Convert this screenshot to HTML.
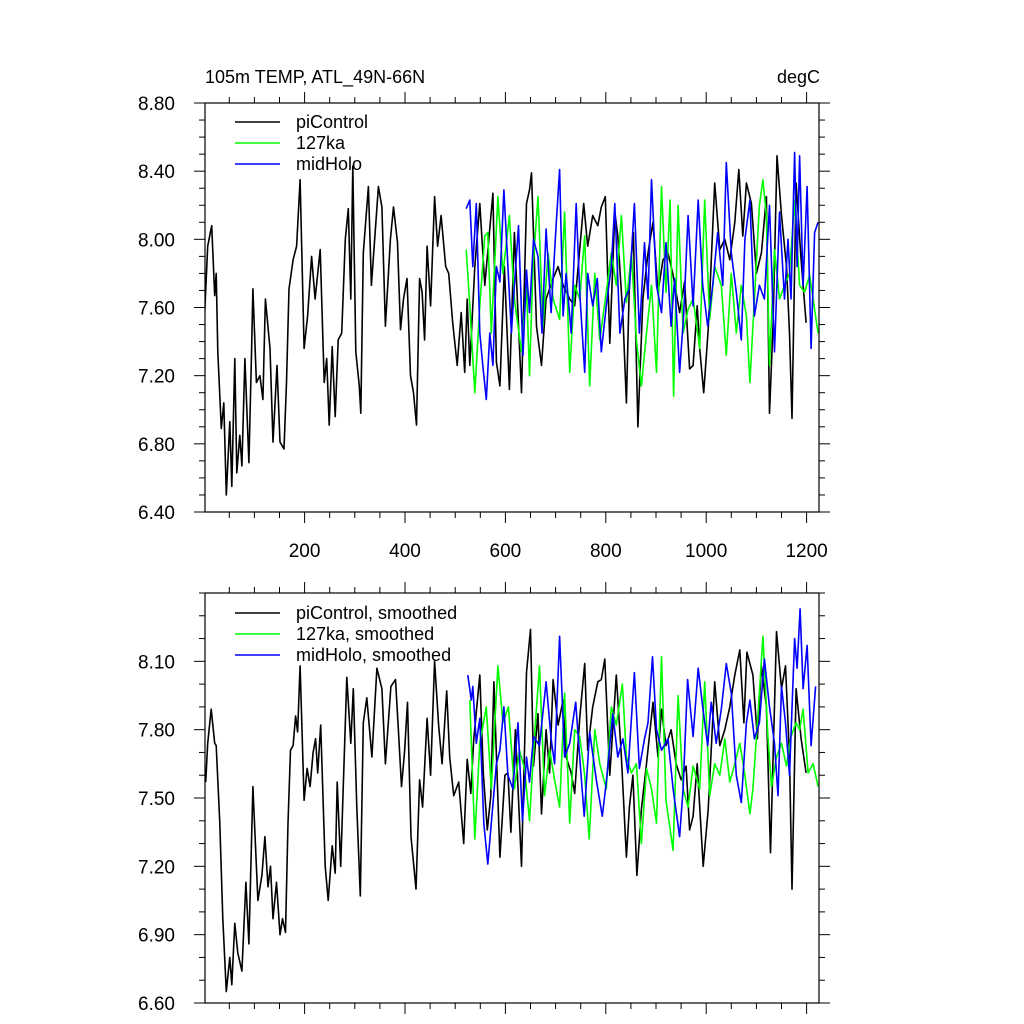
<!DOCTYPE html>
<html><head><meta charset="utf-8"><style>
html,body{margin:0;padding:0;background:#fff;}
svg{display:block;font-family:"Liberation Sans",sans-serif;}
</style></head><body>
<svg id="chart" width="1024" height="1024" viewBox="0 0 1024 1024"></svg>
<script>
// ---- Data ----
const piYears = [1,7,15,21,24,27,34,39,44,51,55,61,65,71,75,81,89,94,97,104,111,117,122,131,137,145,151,159,164,169,177,184,191,199,206,214,221,231,239,244,249,255,261,267,274,281,287,292,296,302,309,312,317,327,333,341,347,354,361,371,377,385,391,397,404,411,417,423,429,434,439,444,451,459,465,472,481,487,495,504,512,519,524,529,539,549,559,575,582,589,598,608,618,632,642,648,652,662,672,681,695,705,715,728,738,748,756,764,774,784,791,799,808,818,824,834,841,847,855,864,874,884,894,904,914,924,934,947,957,967,974,982,987,995,1004,1017,1027,1037,1047,1057,1065,1073,1080,1090,1100,1110,1120,1126,1133,1141,1150,1160,1166,1171,1179,1189,1199];
const piValues = [7.57,7.96,8.08,7.67,7.80,7.34,6.89,7.04,6.50,6.93,6.55,7.30,6.63,6.85,6.67,7.30,6.69,7.30,7.71,7.16,7.20,7.06,7.65,7.36,6.81,7.26,6.81,6.77,7.16,7.71,7.88,7.96,8.35,7.36,7.55,7.90,7.65,7.94,7.16,7.30,6.91,7.37,6.96,7.41,7.45,8.00,8.18,7.65,8.43,7.34,7.14,6.98,7.92,8.31,7.73,8.06,8.31,8.19,7.49,8.00,8.19,7.98,7.47,7.65,7.77,7.20,7.10,6.91,7.77,7.69,7.41,7.96,7.61,8.25,7.96,8.14,7.84,7.80,7.51,7.26,7.57,7.22,7.65,7.26,7.84,8.21,7.73,8.27,7.28,7.14,7.84,7.12,8.04,7.10,8.21,8.29,8.39,7.49,7.26,7.65,7.77,7.84,7.73,7.65,7.61,7.94,8.21,7.96,8.14,8.08,8.19,8.25,7.39,8.16,8.02,7.55,7.04,7.75,8.04,6.90,7.65,7.92,8.10,7.69,7.88,7.92,7.79,7.57,7.75,7.24,7.26,7.61,7.36,7.10,7.47,8.33,7.94,8.00,7.88,8.10,8.41,8.02,8.33,8.21,7.80,7.92,8.25,6.98,7.49,8.49,8.14,7.84,7.45,6.95,8.33,7.88,7.51];
const kaYears = [522,529,539,549,559,565,572,585,595,602,608,618,632,642,648,655,665,675,685,695,708,718,728,738,748,758,768,778,788,801,811,821,831,841,851,861,871,881,891,901,911,920,928,935,944,954,964,974,987,997,1007,1017,1030,1040,1050,1060,1070,1080,1087,1096,1106,1113,1120,1126,1136,1146,1156,1166,1176,1186,1196,1206,1213,1223];
const kaValues = [7.94,7.61,7.10,7.61,8.02,8.04,7.45,8.25,7.80,7.98,8.14,7.65,7.34,7.73,7.20,7.84,8.25,7.49,7.92,7.65,7.53,8.16,7.22,7.73,7.65,8.02,7.14,7.80,7.41,7.69,7.92,7.73,8.14,7.63,7.92,7.41,7.14,7.45,7.73,7.22,8.31,7.69,8.23,7.08,8.20,7.45,7.59,7.65,7.36,8.23,7.53,7.84,7.73,7.32,7.80,7.45,7.73,7.55,7.16,7.65,8.20,8.35,8.14,7.26,7.94,7.65,7.73,7.80,8.23,7.73,7.69,7.79,7.65,7.45];
const mhYears = [522,529,535,542,549,555,562,569,575,582,589,597,605,612,618,626,635,642,648,656,665,673,681,691,701,708,715,721,731,741,748,758,764,774,783,791,801,811,818,828,838,847,857,867,877,884,891,901,911,920,930,937,947,955,964,974,984,993,1003,1013,1023,1033,1040,1050,1060,1070,1077,1087,1096,1106,1116,1126,1136,1146,1156,1163,1169,1176,1181,1186,1193,1201,1209,1216,1223];
const mhValues = [8.18,8.23,7.84,8.21,7.45,7.26,7.06,7.45,7.26,7.84,7.75,8.29,7.84,7.45,7.73,8.08,7.32,7.82,7.57,8.00,7.90,7.45,8.06,7.57,8.08,8.41,7.55,7.80,7.45,8.21,7.69,7.22,7.80,7.61,7.77,7.34,7.61,7.84,8.21,7.45,7.65,7.71,8.21,7.45,7.98,7.65,8.35,7.73,7.57,7.98,7.49,7.77,7.22,7.55,8.14,7.61,8.23,7.73,7.49,7.73,8.04,7.73,8.45,7.92,7.69,7.41,8.00,8.23,7.55,7.73,7.65,8.20,7.34,8.16,7.65,8.00,7.65,8.51,7.84,8.49,7.73,8.31,7.36,8.04,8.10];
// smoothed
const piSmYears = [3,7,14,21,24,31,37,44,51,55,61,67,75,83,89,97,107,115,121,127,132,137,144,151,156,162,167,172,177,182,186,191,199,205,211,217,222,226,232,241,247,255,261,265,272,284,292,297,304,311,317,324,334,344,354,361,372,381,387,393,399,405,412,422,429,435,444,451,459,467,474,483,489,497,507,517,524,531,537,549,556,564,571,577,589,599,605,611,620,632,642,650,656,665,672,681,688,695,705,715,721,731,738,748,758,764,774,784,791,798,808,821,831,841,847,854,862,871,881,894,904,911,920,930,940,950,960,967,974,982,994,1004,1017,1027,1037,1047,1057,1067,1075,1081,1093,1102,1110,1120,1128,1140,1150,1158,1166,1171,1179,1189,1199];
const piSmValues = [7.57,7.74,7.89,7.74,7.73,7.39,6.97,6.65,6.80,6.68,6.95,6.82,6.74,7.13,6.86,7.55,7.05,7.16,7.33,7.11,7.20,6.97,7.13,6.90,6.97,6.91,7.39,7.71,7.73,7.86,7.79,8.08,7.49,7.63,7.55,7.70,7.76,7.61,7.82,7.20,7.05,7.29,7.17,7.57,7.20,8.03,7.74,7.98,7.46,7.07,7.83,7.94,7.68,8.07,7.98,7.65,7.99,8.02,7.79,7.55,7.70,7.92,7.33,7.10,7.58,7.46,7.85,7.60,8.10,7.82,7.65,7.97,7.68,7.51,7.57,7.30,7.67,7.52,7.76,8.04,7.61,7.36,7.51,8.01,7.24,7.60,7.61,7.35,7.80,7.20,8.05,8.24,7.64,7.87,7.43,7.80,7.61,8.02,7.82,7.93,7.68,7.61,7.52,7.85,8.09,7.71,7.90,8.01,8.02,8.11,7.60,8.04,7.68,7.24,7.46,7.60,7.16,7.45,7.65,7.92,7.68,7.89,7.73,7.80,7.65,7.58,7.64,7.36,7.42,7.65,7.20,7.45,8.01,7.73,7.80,7.90,8.04,8.15,7.83,8.14,8.04,7.76,8.08,7.90,7.26,8.23,7.98,8.08,7.68,7.10,7.98,7.76,7.61];
const kaSmYears = [529,539,549,562,572,585,595,606,618,628,638,648,658,668,678,688,698,708,718,728,738,748,758,767,778,788,801,811,821,833,841,851,861,871,881,891,901,911,920,934,944,954,964,974,987,997,1007,1017,1027,1037,1047,1057,1067,1077,1087,1093,1103,1113,1123,1130,1140,1150,1160,1169,1179,1186,1193,1203,1213,1223];
const kaSmValues = [7.93,7.32,7.74,7.90,7.54,8.08,7.83,7.90,7.54,7.71,7.63,7.40,7.77,8.08,7.51,7.71,7.58,7.46,7.96,7.39,7.80,7.77,7.60,7.32,7.80,7.65,7.54,7.90,7.82,8.00,7.68,7.61,7.65,7.30,7.63,7.54,7.39,8.12,7.49,7.27,7.95,7.54,7.46,7.64,7.54,8.01,7.51,7.65,7.60,7.76,7.57,7.65,7.74,7.60,7.43,7.54,7.86,8.21,7.77,7.55,7.68,7.74,7.64,7.77,7.83,7.80,7.89,7.61,7.65,7.55];
const mhSmYears = [525,532,535,542,549,557,565,572,582,589,597,605,615,625,634,642,648,656,668,681,691,698,708,718,728,740,748,757,768,781,793,801,814,824,834,844,857,867,877,884,893,901,911,924,934,947,954,963,974,984,993,1003,1010,1020,1030,1040,1050,1060,1070,1080,1087,1096,1106,1116,1126,1136,1143,1150,1158,1166,1176,1181,1187,1193,1201,1209,1218];
const mhSmValues = [8.04,7.93,7.99,7.74,7.85,7.39,7.21,7.39,7.65,7.71,7.90,7.60,7.54,7.83,7.40,7.68,7.57,7.77,7.73,8.01,7.76,7.65,8.21,7.68,7.74,7.92,7.68,7.42,7.79,7.58,7.42,7.57,7.87,7.68,7.76,7.61,8.05,7.63,7.76,7.83,8.12,7.80,7.71,7.76,7.54,7.33,7.54,8.02,7.77,8.07,7.90,7.73,7.92,7.74,7.89,8.09,7.96,7.60,7.48,7.83,7.93,7.76,7.83,8.11,7.90,7.74,7.51,7.99,7.83,7.60,8.20,8.07,8.33,7.98,8.17,7.73,7.99];
const topYTicks = [6.4,6.8,7.2,7.6,8.0,8.4,8.8];
const topYLabels = ["6.40","6.80","7.20","7.60","8.00","8.40","8.80"];
const botYTicks = [6.6,6.9,7.2,7.5,7.8,8.1];
const botYLabels = ["6.60","6.90","7.20","7.50","7.80","8.10"];
const xTicks = [200,400,600,800,1000,1200];
const xLabels = ["200","400","600","800","1000","1200"];

const NS="http://www.w3.org/2000/svg";
const svg=document.getElementById('chart');
function mk(tag,attrs,parent){const e=document.createElementNS(NS,tag);for(const k in attrs)e.setAttribute(k,attrs[k]);(parent||svg).appendChild(e);return e;}
const X0=205,X1=819;
const xs=v=>304.6+(v-200)*0.502;

function panel(name,top,bottom,ymin,ymax,yTicks,yLabels,yMinor,showXLabels,series,legendY,title){
  const g=mk('g',{});
  
  
  const ys=v=>bottom-(v-ymin)/(ymax-ymin)*(bottom-top);
  const clipId=name+'-clip';
  const cp=mk('clipPath',{id:clipId},g);mk('rect',{x:X0,y:top,width:X1-X0,height:bottom-top},cp);
  // series
  series.forEach(s=>{
    const d=s.years.map((yr,i)=>(i?'L':'M')+xs(yr).toFixed(1)+','+ys(s.vals[i]).toFixed(1)).join('');
    const p=mk('path',{d:d,fill:'none',stroke:s.color,'stroke-width':1.6,'stroke-linejoin':'round','clip-path':'url(#'+clipId+')'},g);
    
    
  });
  // frame
  const fr=mk('rect',{x:X0,y:top,width:X1-X0,height:bottom-top,fill:'none',stroke:'#000','stroke-width':1.2},g);
  
  
  // y ticks
  for(let v=ymin;v<=ymax+1e-6;v+=yMinor){
    const y=ys(v);
    const major=yTicks.some(t=>Math.abs(t-v)<1e-6);
    const L=major?11:6;
    mk('line',{x1:X0-L,x2:X0,y1:y,y2:y,stroke:'#000','stroke-width':1},g);
    mk('line',{x1:X1,x2:X1+L,y1:y,y2:y,stroke:'#000','stroke-width':1},g);
  }
  yTicks.forEach((t,i)=>{
    const tx=mk('text',{x:175,y:ys(t)+7,'text-anchor':'end','font-size':19},g);
    tx.textContent=yLabels[i];
    
    
  });
  // x ticks
  for(let v=0;v<=1225;v+=50){
    const x=xs(v); if(x<X0-0.5||x>X1+0.5)continue;
    const major=v%200===0;const L=major?11:6;
    mk('line',{x1:x,x2:x,y1:bottom,y2:bottom+L,stroke:'#000','stroke-width':1},g);
    mk('line',{x1:x,x2:x,y1:top-L,y2:top,stroke:'#000','stroke-width':1},g);
  }
  if(showXLabels){xTicks.forEach((t,i)=>{
    const tx=mk('text',{x:xs(t),y:bottom+45,'text-anchor':'middle','font-size':19},g);
    tx.textContent=xLabels[i];
    
    
  });}
  // legend
  series.forEach((s,i)=>{
    const y=legendY+i*21;
    const ln=mk('line',{x1:235,x2:280,y1:y,y2:y,stroke:s.color,'stroke-width':1.6},g);
    
    
    const tx=mk('text',{x:296,y:y+6,'font-size':18},g);
    tx.textContent=s.label;
    
    
  });
  if(title){
    const t1=mk('text',{x:205,y:83,'font-size':18},g);t1.textContent=title[0];
    
    
    const t2=mk('text',{x:820,y:83,'font-size':18,'text-anchor':'end'},g);t2.textContent=title[1];
    
    
  }
}
panel('top-panel',103,512,6.4,8.8,topYTicks,topYLabels,0.1,true,[
  {name:'picontrol-line',label:'piControl',color:'#000',years:piYears,vals:piValues},
  {name:'127ka-line',label:'127ka',color:'#00ff00',years:kaYears,vals:kaValues},
  {name:'midholo-line',label:'midHolo',color:'#0000ff',years:mhYears,vals:mhValues}],122,["105m TEMP, ATL_49N-66N","degC"]);
panel('bottom-panel',593,1003,6.6,8.4,botYTicks,botYLabels,0.1,false,[
  {name:'picontrol-smoothed-line',label:'piControl, smoothed',color:'#000',years:piSmYears,vals:piSmValues},
  {name:'127ka-smoothed-line',label:'127ka, smoothed',color:'#00ff00',years:kaSmYears,vals:kaSmValues},
  {name:'midholo-smoothed-line',label:'midHolo, smoothed',color:'#0000ff',years:mhSmYears,vals:mhSmValues}],613,null);
</script>
</body></html>
